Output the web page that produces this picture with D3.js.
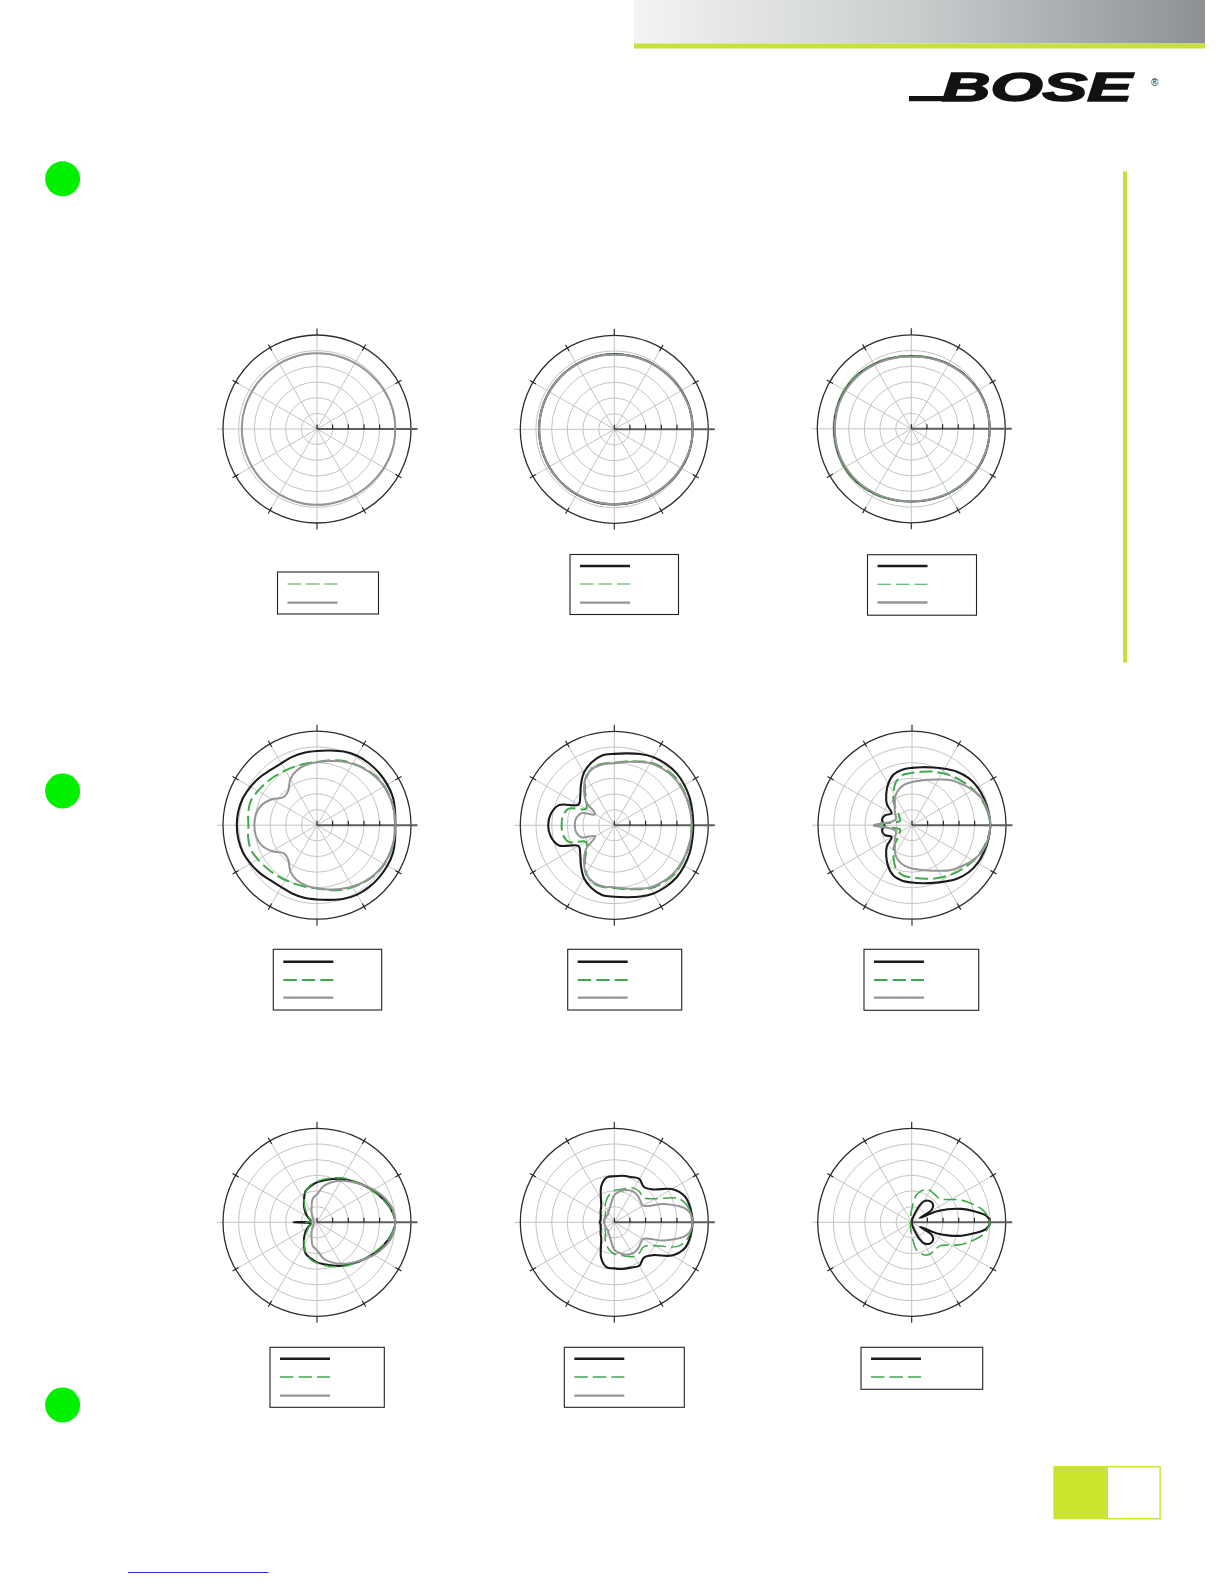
<!DOCTYPE html>
<html><head><meta charset="utf-8">
<script src="https://cdn.jsdelivr.net/npm/d3@7"></script>
<style>html,body{margin:0;padding:0;background:#fff}svg{display:block}</style>
</head><body>
<svg id="page" width="1224" height="1584"></svg>
<script>
// ---------- DATA ----------
// polar angle in degrees (0 = on-axis, to the right; counter-clockwise)
const angles = [0,10,20,30,40,50,60,70,80,90,100,110,120,130,140,150,160,170,180,
                190,200,210,220,230,240,250,260,270,280,290,300,310,320,330,340,350];
// finer angle list used for the narrow-lobed last plot
const p9Angles = [0,5,10,15,20,24,28,32,40,50,60,65,70,80,90,100,120,150,180,
                  210,240,260,270,280,290,295,300,310,320,328,332,336,340,345,350,355];
// radial grid (dB)
const dbRings = [-20,-15,-10,-5,0];
const dbMin = -25, dbMax = 5;
const spokeAngles = [0,30,60,90,120,150,180,210,240,270,300,330];

// plot 1
const p1Green = [-0.1,-0.1,-0.2,-0.4,-0.5,-0.6,-0.7,-0.8,-0.8,-0.8,-0.9,-0.9,-1.0,-1.0,-1.1,-1.1,-1.1,-1.1,-1.1,
                 -1.1,-1.1,-1.1,-1.1,-1.0,-1.0,-0.9,-0.9,-0.8,-0.8,-0.8,-0.7,-0.6,-0.5,-0.4,-0.2,-0.1];
const p1Gray  = [0,0,-0.1,-0.3,-0.5,-0.6,-0.7,-0.8,-0.8,-0.8,-0.8,-0.9,-0.9,-1.0,-1.0,-1.0,-1.0,-1.0,-1.0,
                 -1.0,-1.0,-1.0,-1.0,-1.0,-0.9,-0.9,-0.8,-0.8,-0.8,-0.8,-0.7,-0.6,-0.5,-0.3,-0.1,0];
// plot 2
const p2Black = [0,0,-0.1,-0.3,-0.5,-0.7,-0.8,-0.9,-1.0,-1.0,-1.0,-1.0,-1.0,-1.0,-1.0,-1.0,-1.0,-1.0,-1.0,
                 -1.0,-1.0,-1.0,-1.0,-1.0,-1.0,-1.0,-1.0,-1.0,-1.0,-0.9,-0.8,-0.7,-0.5,-0.3,-0.1,0];
const p2Green = [0,0,-0.1,-0.3,-0.5,-0.6,-0.7,-0.8,-0.9,-0.9,-1.0,-1.0,-1.1,-1.1,-1.1,-1.1,-1.1,-1.1,-1.1,
                 -1.1,-1.1,-1.1,-1.1,-1.1,-1.1,-1.0,-1.0,-0.9,-0.9,-0.8,-0.7,-0.6,-0.5,-0.3,-0.1,0];
const p2Gray  = [0,0,-0.2,-0.4,-0.6,-0.8,-0.9,-1.0,-1.1,-1.1,-1.1,-1.1,-1.1,-1.0,-1.0,-1.0,-1.0,-1.0,-1.0,
                 -1.0,-1.0,-1.0,-1.0,-1.0,-1.1,-1.1,-1.1,-1.1,-1.1,-1.0,-0.9,-0.8,-0.6,-0.4,-0.2,0];
// plot 3
const p3Black = [0,0,-0.1,-0.3,-0.6,-0.9,-1.2,-1.5,-1.7,-1.8,-1.7,-1.5,-1.2,-0.9,-0.6,-0.5,-0.4,-0.4,-0.4,
                 -0.4,-0.4,-0.5,-0.6,-0.9,-1.2,-1.5,-1.7,-1.8,-1.7,-1.5,-1.2,-0.9,-0.6,-0.3,-0.1,0];
const p3Green = [0,0,-0.1,-0.3,-0.5,-0.8,-1.1,-1.4,-1.6,-1.7,-1.5,-1.2,-0.9,-0.6,-0.4,-0.2,-0.2,-0.3,-0.4,
                 -0.3,-0.4,-0.1,-0.4,-0.6,-0.9,-1.2,-1.5,-1.7,-1.6,-1.4,-1.1,-0.8,-0.5,-0.3,-0.1,0];
const p3Gray  = [0,0,-0.2,-0.4,-0.7,-1.0,-1.3,-1.6,-1.8,-1.9,-1.8,-1.6,-1.4,-1.1,-0.9,-0.7,-0.6,-0.6,-0.6,
                 -0.6,-0.6,-0.7,-0.9,-1.1,-1.4,-1.6,-1.8,-1.9,-1.8,-1.6,-1.3,-1.0,-0.7,-0.4,-0.2,0];
// plot 4
const p4Black = [0,0.3,0.8,0.9,0.9,0.8,0.6,0,-0.8,-1.3,-1.5,-1.8,-2.2,-2.0,-1.2,-0.5,0.2,0.5,0.6,
                 0.5,0.2,-0.5,-1.2,-2.0,-2.2,-1.8,-1.5,-1.3,-0.8,0,0.6,0.8,0.9,0.9,0.8,0.3];
const p4Green = [-0.2,0,0,-0.2,-0.6,-1.4,-2.2,-3.0,-4.0,-4.8,-5.0,-5.0,-4.8,-4.4,-3.9,-3.2,-2.5,-2.7,-3.1,
                 -2.7,-2.5,-3.2,-3.9,-4.4,-4.8,-5.0,-5.0,-4.8,-4.0,-3.0,-2.2,-1.4,-0.6,-0.2,0,0];
const p4Gray  = [0,0,-0.1,-0.3,-0.8,-1.5,-2.4,-3.3,-4.2,-4.9,-5.4,-6.3,-8.0,-10.7,-11.1,-8.4,-6.2,-5.2,-5.0,
                 -5.2,-6.2,-8.4,-11.1,-10.7,-8.0,-6.3,-5.4,-4.9,-4.2,-3.3,-2.4,-1.5,-0.8,-0.3,-0.1,0];
// plot 5
const p5Black = [0.2,0.3,0.6,0.8,0.9,0.6,0.1,-0.8,-1.7,-2.2,-2.4,-3.7,-5.6,-8.4,-10.8,-11.8,-6.2,-4.4,-3.9,
                 -4.4,-6.2,-11.8,-10.8,-8.4,-5.6,-3.7,-2.4,-2.2,-1.7,-0.8,0.1,0.6,0.9,0.8,0.6,0.3];
const p5Green = [-0.3,-0.3,-0.3,-0.3,-0.4,-1.0,-1.8,-3.3,-4.3,-5.0,-5.0,-5.3,-7.2,-10.4,-13.5,-14.5,-9.5,-8.3,-8.2,
                 -8.3,-9.5,-14.5,-13.5,-10.4,-7.2,-5.3,-5.0,-5.0,-4.3,-3.3,-1.8,-1.0,-0.4,-0.3,-0.3,-0.3];
const p5Gray  = [-0.3,-0.3,-0.4,-0.5,-0.7,-1.3,-2.1,-3.5,-4.5,-5.2,-5.2,-5.6,-7.0,-10.0,-13.2,-18.0,-13.8,-12.6,-12.4,
                 -12.6,-13.8,-18.0,-13.2,-10.0,-7.0,-5.6,-5.2,-5.2,-4.5,-3.5,-2.1,-1.3,-0.7,-0.5,-0.4,-0.3];
// plot 6
const p6Black = [0,-0.2,-0.5,-0.8,-1.5,-2.7,-4.2,-5.4,-6.2,-6.7,-7.0,-7.8,-9.8,-12.2,-14.5,-17.5,-15.8,-15.3,-16.2,
                 -15.3,-15.8,-17.5,-14.5,-12.2,-9.8,-7.8,-7.0,-6.7,-6.2,-5.4,-4.2,-2.7,-1.5,-0.8,-0.5,-0.2];
const p6Green = [0,-0.5,-1.3,-2.4,-3.6,-4.7,-5.8,-6.8,-7.7,-8.3,-8.7,-10.2,-13.2,-16.0,-19.3,-20.5,-21.0,-19.5,-12.7,
                 -19.5,-21.0,-20.5,-19.3,-16.0,-13.2,-10.2,-8.7,-8.3,-7.7,-6.8,-5.8,-4.7,-3.6,-2.4,-1.3,-0.5];
const p6Gray  = [0,-0.3,-1.0,-2.6,-4.5,-6.2,-8.2,-9.6,-10.6,-11.2,-11.8,-12.8,-14.3,-16.5,-17.8,-19.0,-19.5,-18.5,-12.7,
                 -18.5,-19.5,-19.0,-17.8,-16.5,-14.3,-12.8,-11.8,-11.2,-10.6,-9.6,-8.2,-6.2,-4.5,-2.6,-1.0,-0.3];
// plot 7
const p7Black = [0,-1.0,-2.7,-4.5,-6.2,-7.8,-9.0,-10.3,-11.4,-12.2,-13.3,-14.4,-16.7,-18.6,-20.2,-21.6,-22.7,-23.0,-17.5,
                 -23.0,-22.7,-21.6,-20.2,-18.6,-16.7,-14.4,-13.3,-12.2,-11.4,-10.3,-9.0,-7.8,-6.2,-4.5,-2.7,-1.0];
const p7Green = [0,-1.1,-2.9,-4.8,-6.2,-7.5,-8.7,-9.9,-11.0,-12.0,-13.0,-14.6,-16.8,-19.0,-21.0,-22.0,-23.0,-23.3,-21.5,
                 -23.3,-23.0,-22.0,-21.0,-19.0,-16.8,-14.6,-13.0,-12.0,-11.0,-9.9,-8.7,-7.5,-6.2,-4.8,-2.9,-1.1];
const p7Gray  = [0,-0.5,-2.1,-4.1,-6.3,-8.1,-9.7,-11.4,-13.3,-16.1,-17.3,-19.9,-21.6,-22.7,-23.4,-23.7,-23.9,-23.9,-23.9,
                 -23.9,-23.9,-23.7,-23.4,-22.7,-21.6,-19.9,-17.3,-16.1,-13.3,-11.4,-9.7,-8.1,-6.3,-4.1,-2.1,-0.5];
// plot 8
const p8Black = [0,-0.3,-1.0,-3.8,-8.7,-10.3,-9.0,-9.6,-9.9,-10.3,-10.5,-12.8,-16.5,-18.5,-19.3,-20.0,-20.4,-20.6,-20.4,
                 -20.6,-20.4,-20.0,-19.3,-18.5,-16.5,-12.8,-10.5,-10.3,-9.9,-9.6,-9.0,-10.3,-8.7,-3.8,-1.0,-0.3];
const p8Green = [-0.3,-0.7,-3.0,-10.0,-12.8,-12.4,-12.4,-13.5,-14.4,-14.9,-16.0,-17.6,-19.1,-20.7,-21.2,-21.6,-21.6,-21.6,-21.6,
                 -21.6,-21.6,-21.6,-21.2,-20.7,-19.1,-17.6,-16.0,-14.9,-14.4,-13.5,-12.4,-12.4,-12.8,-10.0,-3.0,-0.7];
const p8Gray  = [0,-1.5,-8.0,-14.4,-14.2,-13.6,-13.5,-14.0,-15.0,-16.3,-19.0,-20.5,-21.2,-21.8,-21.8,-21.8,-21.8,-21.8,-21.8,
                 -21.8,-21.8,-21.8,-21.8,-21.8,-21.2,-20.5,-19.0,-16.3,-15.0,-14.0,-13.5,-13.6,-14.2,-14.4,-8.0,-1.5];
// plot 9 (values at p9Angles)
const p9Black = [0,-1.1,-4.8,-8.5,-12.8,-16.5,-22.0,-17.5,-16.1,-16.1,-17.3,-19.1,-21.8,-24.1,-24.7,-24.8,-24.8,-24.8,-24.8,
                 -24.8,-24.8,-24.8,-24.7,-24.1,-21.8,-19.1,-17.3,-16.1,-16.1,-17.5,-22.0,-16.5,-12.8,-8.5,-4.8,-1.1];
const p9Green = [0,-0.7,-2.0,-4.0,-6.0,-7.6,-9.5,-11.3,-13.3,-13.5,-13.3,-13.5,-14.0,-16.0,-21.0,-23.0,-24.3,-24.6,-24.6,
                 -24.6,-24.3,-23.0,-21.0,-16.0,-14.0,-13.5,-13.3,-13.5,-13.3,-11.3,-9.5,-7.6,-6.0,-4.0,-2.0,-0.7];

// ---------- LAYOUT / STYLE ----------
const R = 94;
const rScale = d3.scaleLinear().domain([dbMin, dbMax]).range([0, R]);
const styles = {
  black: {stroke:'#1b1b1b', width:2.1, dash:null},
  green: {stroke:'#3fa94b', width:1.2, dash:'13,5'},
  gray:  {stroke:'#959595', width:2.0, dash:null}
};
const plots = [
  {cx:317, cy:429, gw:1.1, ang:angles, series:[['green',p1Green],['gray',p1Gray]],
   box:[277.5,572,101,42], rows:[['green',584],['gray',602.7]]},
  {cx:614.3, cy:429.3, gw:1.1, ang:angles, series:[['black',p2Black],['green',p2Green],['gray',p2Gray]],
   box:[570,554.5,108.5,60], rows:[['black',566],['green',584],['gray',602.7]]},
  {cx:911.3, cy:428.8, gw:1.1, ang:angles, series:[['black',p3Black],['green',p3Green],['gray',p3Gray]],
   box:[867.5,554.7,109,60.5], rows:[['black',566],['green',584.2],['gray',602.5]]},
  {cx:317, cy:825.2, gw:2.0, ang:angles, series:[['black',p4Black],['green',p4Green],['gray',p4Gray]],
   box:[273.3,949.3,108.4,60.7], rows:[['black',961.7],['green',980],['gray',997.7]]},
  {cx:614.3, cy:825.3, gw:2.0, ang:angles, series:[['black',p5Black],['green',p5Green],['gray',p5Gray]],
   box:[567.7,949.3,114,60.7], rows:[['black',961.7],['green',980],['gray',997.7]]},
  {cx:912, cy:825.2, gw:2.0, ang:angles, series:[['black',p6Black],['green',p6Green],['gray',p6Gray]],
   box:[864,949.3,114.7,61], rows:[['black',961.7],['green',980],['gray',997.7]]},
  {cx:317, cy:1222.3, gw:1.5, ang:angles, series:[['black',p7Black],['green',p7Green],['gray',p7Gray]],
   box:[270,1347.3,114.3,60], rows:[['black',1358.7],['green',1377],['gray',1395.7]]},
  {cx:614.3, cy:1222.3, gw:1.5, ang:angles, series:[['black',p8Black],['green',p8Green],['gray',p8Gray]],
   box:[564.3,1347.3,120,60], rows:[['black',1358.7],['green',1377],['gray',1395.7]]},
  {cx:911.7, cy:1222.3, gw:1.6, ang:p9Angles, series:[['black',p9Black],['green',p9Green]],
   box:[861,1347.3,121.7,42], rows:[['black',1358.7],['green',1377]]}
];

const svg = d3.select('#page');

// ---------- page decoration ----------
const defs = svg.append('defs');
const grad = defs.append('linearGradient').attr('id','hdr').attr('x1','0').attr('x2','1').attr('y1','0').attr('y2','0');
grad.append('stop').attr('offset','0').attr('stop-color','#f3f4f4');
grad.append('stop').attr('offset','0.5').attr('stop-color','#c9cccd');
grad.append('stop').attr('offset','1').attr('stop-color','#8d9194');
svg.append('rect').attr('x',634).attr('y',0).attr('width',571).attr('height',43.5).attr('fill','url(#hdr)');
svg.append('rect').attr('x',634).attr('y',43.5).attr('width',571).attr('height',5).attr('fill','#c8e03a');

// BOSE logo
const logo = svg.append('g');
logo.append('rect').attr('x',909).attr('y',96).attr('width',38).attr('height',5.2).attr('fill','#111');
logo.append('text').attr('x',942).attr('y',101).attr('font-family','Liberation Sans, Arial, sans-serif')
  .attr('font-weight','bold').attr('font-style','italic').attr('font-size',41)
  .attr('textLength',190).attr('lengthAdjust','spacingAndGlyphs').attr('fill','#111')
  .attr('stroke','#111').attr('stroke-width',1.6).text('BOSE');
logo.append('text').attr('x',1151).attr('y',86).attr('font-family','Liberation Sans, Arial, sans-serif')
  .attr('font-size',10).attr('fill','#222').text('®');

// green dots
[[62.6,178.8],[62.6,791],[62.6,1405]].forEach(([x,y]) => {
  svg.append('circle').attr('cx',x).attr('cy',y).attr('r',17.5).attr('fill','#00f000');
});
// right vertical lime bar
svg.append('rect').attr('x',1123).attr('y',171.5).attr('width',4).attr('height',491).attr('fill','#c8e03a');
// bottom-right boxes
svg.append('rect').attr('x',1053.3).attr('y',1466).attr('width',53.5).attr('height',53.3).attr('fill','#cde42f');
svg.append('rect').attr('x',1107.3).attr('y',1466.7).attr('width',52.8).attr('height',52).attr('fill','#fff')
  .attr('stroke','#cde42f').attr('stroke-width',1.5);
// bottom-left link underline
svg.append('line').attr('x1',128).attr('x2',268.5).attr('y1',1572.5).attr('y2',1572.5).attr('stroke','#2b2be6').attr('stroke-width',1);

// ---------- polar plots ----------
const rad = a => a * Math.PI / 180;
const makeLine = ang => d3.lineRadial()
  .angle((d, i) => rad(90 - ang[i]))
  .radius(d => rScale(d))
  .curve(d3.curveCatmullRomClosed.alpha(0.5));

plots.forEach(p => {
  const g = svg.append('g').attr('transform', `translate(${p.cx},${p.cy})`);
  const lineGen = makeLine(p.ang);
  // rings
  g.selectAll('circle.ring').data(dbRings).enter().append('circle')
    .attr('r', d => rScale(d)).attr('fill','none').attr('stroke','#c4c4c4').attr('stroke-width',1);
  // spokes
  g.selectAll('line.spoke').data(spokeAngles.filter(a => a !== 0)).enter().append('line')
    .attr('x1',0).attr('y1',0)
    .attr('x2', a => (a === 180 ? 100 : R) * Math.cos(rad(a)))
    .attr('y2', a => -(a === 180 ? 100 : R) * Math.sin(rad(a)))
    .attr('stroke','#c4c4c4').attr('stroke-width',1);
  // outer circle
  g.append('circle').attr('r', rScale(dbMax)).attr('fill','none').attr('stroke','#2d2d2d').attr('stroke-width',1.3);
  // outer ticks
  g.selectAll('line.otick').data(spokeAngles.filter(a => a !== 0 && a !== 180)).enter().append('line')
    .attr('x1', a => (a % 90 === 0 ? R : R - 3.5) * Math.cos(rad(a)))
    .attr('y1', a => -(a % 90 === 0 ? R : R - 3.5) * Math.sin(rad(a)))
    .attr('x2', a => (a % 90 === 0 ? 100.5 : R + 3.5) * Math.cos(rad(a)))
    .attr('y2', a => -(a % 90 === 0 ? 100.5 : R + 3.5) * Math.sin(rad(a)))
    .attr('stroke','#222').attr('stroke-width',1.1);
  // on-axis dark scale line with ring ticks
  g.append('line').attr('x1',0).attr('y1',0).attr('x2',100.5).attr('y2',0).attr('stroke','#5c5c5c').attr('stroke-width',2);
  g.selectAll('line.atick').data([dbMin].concat(dbRings)).enter().append('line')
    .attr('x1', d => rScale(d)).attr('x2', d => rScale(d)).attr('y1',0).attr('y2',-4.5)
    .attr('stroke','#1a1a1a').attr('stroke-width',1.1);
  // data curves
  p.series.forEach(([kind, vals]) => {
    const s = styles[kind];
    g.append('path').datum(vals).attr('d', lineGen)
      .attr('fill','none').attr('stroke', s.stroke)
      .attr('stroke-width', kind === 'green' ? p.gw : s.width)
      .attr('stroke-dasharray', s.dash)
      .attr('stroke-linejoin','round');
  });
  // legend
  const [bx, by, bw, bh] = p.box;
  svg.append('rect').attr('x',bx).attr('y',by).attr('width',bw).attr('height',bh)
    .attr('fill','#fff').attr('stroke','#222').attr('stroke-width',1.1);
  p.rows.forEach(([kind, y]) => {
    const s = styles[kind];
    svg.append('line').attr('x1',bx + 10).attr('x2',bx + 60).attr('y1',y).attr('y2',y)
      .attr('stroke', s.stroke)
      .attr('stroke-width', kind === 'green' ? Math.max(1.1, p.gw) : s.width + 0.3)
      .attr('stroke-dasharray', kind === 'green' ? '13.5,5' : null);
  });
});
</script>
</body></html>
